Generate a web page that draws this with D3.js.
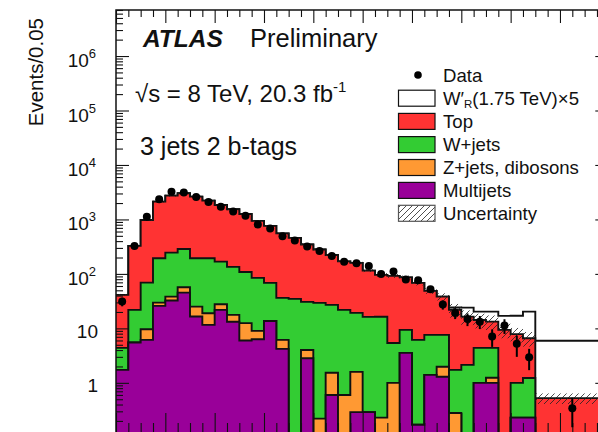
<!DOCTYPE html>
<html><head><meta charset="utf-8">
<script src="https://cdn.jsdelivr.net/npm/d3@7"></script>
<style>html,body{margin:0;padding:0;background:#fff;overflow:hidden}</style>
</head><body><svg id="c" width="598" height="432"></svg>
<script>
// ---- data ----
const binEdges = [-1,-0.95,-0.9,-0.85,-0.8,-0.75,-0.7,-0.65,-0.6,-0.55,-0.5,-0.45,-0.4,-0.35,-0.3,-0.25,-0.2,-0.15,-0.1,-0.05,0,0.05,0.1,0.15,0.2,0.25,0.3,0.35,0.4,0.45,0.5,0.55,0.6,0.65,0.7,1.0];
const multijets = [1.73,5.5,6.15,25.9,32.4,45.4,16.5,11.6,21.9,13.2,6.0,6.3,13.7,4.2,0,2.82,0,0.60,0,0.29,0.29,0,0,3.55,0.17,1.4,1.29,0,0,1.0,1.0,0,0.23,0.23,0];
const zjets = [0,0,3.5,3.8,5.9,11.6,8.6,7.4,5.9,4.5,6.5,2.7,0,1.95,0,1.2,0.22,0.93,0.60,1.3,0,0.23,1.0,0,0,0,0.68,0.28,0,0,0.24,0,0,0,0];
const wjets = [2.66,16.4,59.5,164,208,230,169,175,140,117,96,75.5,54.7,30.2,34.8,26.6,29.2,25.5,21.3,17.7,16.0,16.1,4.4,5.84,5.98,6.2,5.63,1.45,2.14,3.39,3.15,0,0.77,1.0,0];
const topBkg = [36.8,304.6,910,1927,2487,2738,2426,2019,1678,1404,1153,855,692,518,423,317,252,196,147.6,140,98.7,79.6,86.5,76.9,62.2,41.2,30.7,20.2,14.3,9.9,8.9,9.39,6.83,5.37,0.524];
const signalWR = [0,0,0,0,0,0,0,0,0,0,0,0,0,0,0,0,0,0,0,0,0,0,0,0,0,0,0,2.2,7.6,6.0,7.0,7.6,9.2,13.7,5.4];
const dataVals = [31,327,1125,2348,3210,3130,2587,2095,1718,1395,1170,810,684,492,412,317,264,214,168,157,140,100,111,79.3,76.6,52.4,27.3,19.2,14.9,13.3,7.07,11.3,5.2,2.96,0.343];
const dataErr = [5.6,18,34,48,57,56,51,46,41,37,34,28,26,22,20,18,16,15,13,12.5,12,10,10.5,8.9,8.8,7.2,5.2,4.4,3.9,3.6,2.5,3.4,2.2,1.25,0.19];
const uncertainty = [0.04,0.04,0.04,0.04,0.04,0.04,0.04,0.04,0.04,0.04,0.04,0.04,0.04,0.04,0.04,0.05,0.05,0.05,0.05,0.05,0.06,0.08,0.08,0.08,0.1,0.12,0.15,0.28,0.3,0.3,0.3,0.3,0.3,0.3,0.22];
const yTickValues = [1,10,100,1000,10000,100000,1000000];
const yTickLabels = [["1",""],["10",""],["10","2"],["10","3"],["10","4"],["10","5"],["10","6"]];
const legendLabels = ["Data","W′","Top","W+jets","Z+jets, dibosons","Multijets","Uncertainty"];
const colors = {top:"#ff3333", w:"#33cc33", z:"#ff9933", mj:"#990099", sig:"#ffffff"};

// ---- setup ----
const svg = d3.select("#c");
const font = "'Liberation Sans', Arial, Helvetica, sans-serif";
const x = d3.scaleLinear().domain([-1, 1]).range([116, 609.3]);
const y = d3.scaleLog().domain([0.12, 7e6]).range([433, 10]);
const Y = v => y(Math.max(v, 0.04));
const nb = binEdges.length - 1;

const defs = svg.append("defs");
const pat = defs.append("pattern").attr("id","hatch").attr("patternUnits","userSpaceOnUse")
  .attr("width",6).attr("height",6);
pat.append("path").attr("d","M0,6 L6,0 M-1.5,1.5 L1.5,-1.5 M4.5,7.5 L7.5,4.5")
  .attr("stroke","#222").attr("stroke-width",0.8);
defs.append("clipPath").attr("id","plot").append("rect")
  .attr("x",116).attr("y",10).attr("width",x(1)-116).attr("height",423);

// cumulative stacks
const cMJ = multijets.slice();
const cZ = cMJ.map((v,i)=>v+zjets[i]);
const cW = cZ.map((v,i)=>v+wjets[i]);
const cTop = cW.map((v,i)=>v+topBkg[i]);
const cSig = cTop.map((v,i)=>v+signalWR[i]);

function stepArea(vals){
  const yb = Y(0);
  let d = `M${x(binEdges[0])},${yb}`;
  for(let i=0;i<nb;i++){
    d += `L${x(binEdges[i])},${Y(vals[i])}L${x(binEdges[i+1])},${Y(vals[i])}`;
  }
  d += `L${x(binEdges[nb])},${yb}Z`;
  return d;
}
function stepLine(vals){
  let d = `M${x(binEdges[0])},${Y(vals[0])}`;
  for(let i=0;i<nb;i++){
    d += `L${x(binEdges[i])},${Y(vals[i])}L${x(binEdges[i+1])},${Y(vals[i])}`;
  }
  return d;
}

const g = svg.append("g").attr("clip-path","url(#plot)");
[[cSig,colors.sig],[cTop,colors.top],[cW,colors.w],[cZ,colors.z],[cMJ,colors.mj]].forEach(([vals,col])=>{
  g.append("path").attr("d",stepArea(vals)).attr("fill",col).attr("stroke","none");
  g.append("path").attr("d",stepLine(vals)).attr("fill","none").attr("stroke","#111").attr("stroke-width",1.9);
});

// uncertainty hatch band
g.selectAll("rect.unc").data(d3.range(nb)).join("rect").attr("class","unc")
  .attr("x",i=>x(binEdges[i])).attr("width",i=>x(binEdges[i+1])-x(binEdges[i]))
  .attr("y",i=>Y(cTop[i]*(1+uncertainty[i])))
  .attr("height",i=>Y(cTop[i]*(1-uncertainty[i]))-Y(cTop[i]*(1+uncertainty[i])))
  .attr("fill","url(#hatch)");

// axes
const yt = y.ticks();
const yMajor = yt.filter(v=>Math.abs(Math.log10(v)-Math.round(Math.log10(v)))<1e-9);
const yMinor = yt.filter(v=>!yMajor.includes(v));
const xt = x.ticks(40);
const xMajor = xt.filter(v=>Math.abs(v*5-Math.round(v*5))<1e-9);
const xMinor = xt.filter(v=>!xMajor.includes(v));
function ax(gen, vals, size, tr){
  const a = svg.append("g").attr("transform",tr)
    .call(gen.tickValues(vals).tickSize(size).tickFormat(""));
  a.select(".domain").remove();
  a.selectAll("line").attr("stroke","#111").attr("stroke-width",1.1);
}
ax(d3.axisRight(y), yMajor, 13, "translate(116,0)");
ax(d3.axisRight(y), yMinor, 7, "translate(116,0)");
ax(d3.axisLeft(y), yMajor, 14, `translate(${x(1)},0)`);
ax(d3.axisLeft(y), yMinor, 7, `translate(${x(1)},0)`);
ax(d3.axisBottom(x), xMajor, 13, "translate(0,10)");
ax(d3.axisBottom(x), xMinor, 7, "translate(0,10)");
ax(d3.axisTop(x), xMajor, 20, "translate(0,433)");
ax(d3.axisTop(x), xMinor, 10, "translate(0,433)");
svg.append("path").attr("d",`M116,433V10H${x(1)}V433Z`).attr("fill","none")
  .attr("stroke","#111").attr("stroke-width",1.5);

// data points
const dg = svg.append("g").attr("clip-path","url(#plot)");
d3.range(nb).forEach(i=>{
  const cx = x((binEdges[i]+binEdges[i+1])/2);
  dg.append("line").attr("x1",cx).attr("x2",cx)
    .attr("y1",Y(dataVals[i]+dataErr[i])).attr("y2",Y(dataVals[i]-dataErr[i]))
    .attr("stroke","#000").attr("stroke-width",2);
  dg.append("circle").attr("cx",cx).attr("cy",y(dataVals[i])).attr("r",4).attr("fill","#000");
});

// y tick labels
yTickValues.forEach((v,i)=>{
  const [base, sup] = yTickLabels[i];
  const t = svg.append("text").attr("font-family",font).attr("font-size",19).attr("fill","#111")
    .attr("text-anchor","end").attr("x", sup? 96 : 98).attr("y", y(v) + (sup? 11 : 9.5));
  t.append("tspan").text(base);
  if(sup) t.append("tspan").attr("font-size",13).attr("dy",-9).text(sup);
});

// y axis title
svg.append("text").attr("font-family",font).attr("font-size",20.5).attr("fill","#111")
  .attr("text-anchor","end").attr("transform","translate(43,18) rotate(-90)").text("Events/0.05");

// labels
const t1 = svg.append("text").attr("font-family",font).attr("font-size",24.5).attr("fill","#111")
  .attr("x",143).attr("y",47);
t1.append("tspan").attr("font-weight","bold").attr("font-style","italic").text("ATLAS");
svg.append("text").attr("font-family",font).attr("font-size",25.5).attr("fill","#111")
  .attr("x",250).attr("y",47).text("Preliminary");
const t2 = svg.append("text").attr("font-family",font).attr("font-size",24).attr("fill","#111")
  .attr("x",135).attr("y",102);
t2.append("tspan").text("√s = 8 TeV, 20.3 fb");
t2.append("tspan").attr("font-size",15).attr("dy",-10).text("-1");
svg.append("text").attr("font-family",font).attr("font-size",25).attr("fill","#111")
  .attr("x",140).attr("y",155).text("3 jets 2 b-tags");

// legend
const rowY = [75,98.2,121.4,144.6,167.5,190.4,213.3];
const lg = svg.append("g");
const fills = [null, colors.sig, colors.top, colors.w, colors.z, colors.mj, "url(#hatch)"];
legendLabels.forEach((lab,i)=>{
  const cy = rowY[i];
  if(i===0){
    lg.append("circle").attr("cx",418).attr("cy",cy).attr("r",3.8).attr("fill","#000");
  } else {
    lg.append("rect").attr("x",398.5).attr("y",cy-8).attr("width",36.5).attr("height",16)
      .attr("fill",fills[i]).attr("stroke", i===6 ? "#555" : "#111").attr("stroke-width",1.2);
  }
  const t = lg.append("text").attr("font-family",font).attr("font-size",18.6).attr("fill","#111")
    .attr("x",443).attr("y",cy+6.7);
  if(i===1){
    t.append("tspan").text(lab);
    t.append("tspan").attr("font-size",11.5).attr("dy",3.5).text("R");
    t.append("tspan").attr("dy",-3.5).text("(1.75 TeV)×5");
  } else t.text(lab);
});
</script></body></html>
